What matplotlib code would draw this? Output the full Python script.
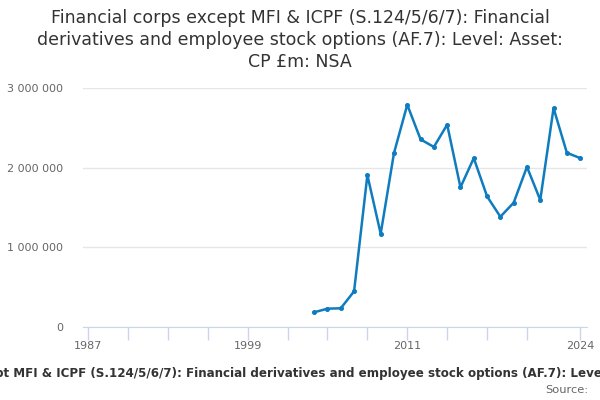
import matplotlib
matplotlib.use("Agg")
import matplotlib.pyplot as plt
from matplotlib.ticker import FuncFormatter

# data (£m)
years = list(range(2004, 2025))
values = [185000, 230000, 235000, 448000, 1907000, 1170000, 2183000, 2790000,
          2355000, 2260000, 2540000, 1753000, 2120000, 1640000, 1384000, 1560000,
          2010000, 1594000, 2748000, 2187000, 2120000]

tick_years = list(range(1987, 2021, 3)) + [2024]
label_years = [1987, 1999, 2011, 2024]

title = ("Financial corps except MFI & ICPF (S.124/5/6/7): Financial\n"
         "derivatives and employee stock options (AF.7): Level: Asset:\n"
         "CP £m: NSA")
xtitle = ("Financial corps except MFI & ICPF (S.124/5/6/7): Financial derivatives "
          "and employee stock options (AF.7): Level: Asset: CP £m: NSA")

line_col = "#0f7cc0"
axis_col = "#ccd6eb"
grid_col = "#e6e6e6"
text_col = "#666666"

fig = plt.figure(figsize=(6, 4), dpi=100)
ax = fig.add_axes([0.138, 0.1825, 0.84, 0.5975])

ax.plot(years, values, color=line_col, lw=1.8, marker="o", ms=2.6, zorder=3)

ax.set_xlim(1986.6, 2024.5)
ax.set_ylim(0, 3000000)
ax.set_yticks([0, 1000000, 2000000, 3000000])
ax.yaxis.set_major_formatter(FuncFormatter(lambda v, p: f"{int(v):,}".replace(",", " ")))
ax.grid(axis="y", color=grid_col, lw=1)
ax.set_axisbelow(True)

ax.set_xticks(tick_years)
ax.set_xticklabels([str(y) if y in label_years else "" for y in tick_years])

for s in ["top", "right", "left"]:
    ax.spines[s].set_visible(False)
ax.spines["bottom"].set_color(axis_col)
ax.tick_params(axis="x", colors=axis_col, length=9, width=1, labelcolor=text_col,
               labelsize=8, pad=1)
ax.tick_params(axis="y", length=0, labelcolor=text_col, labelsize=8, pad=14)

# title and bottom texts (x title is wider than the figure, as in the reference)
fig.text(0.5, 0.978, title, ha="center", va="top", fontsize=12.5,
         color="#333333", linespacing=1.3)
fig.text(0.5, 0.067, xtitle, ha="center", va="center", fontsize=8.6,
         fontweight="bold", color="#333333")
fig.text(0.98, 0.025, "Source:", ha="right", va="center", fontsize=8.2,
         color=text_col)

fig.savefig("out.png", dpi=100)
